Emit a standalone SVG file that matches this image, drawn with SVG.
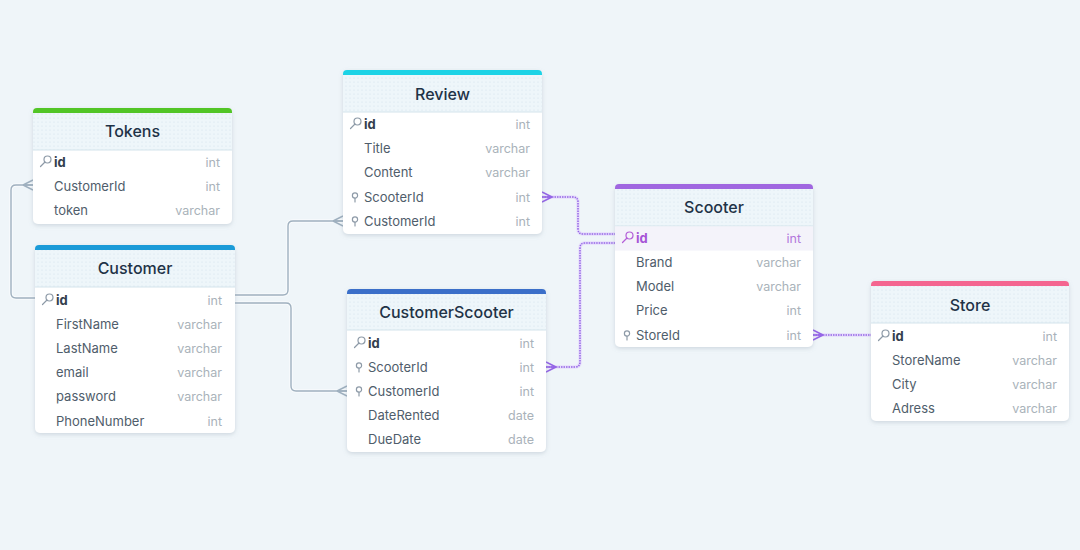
<svg xmlns="http://www.w3.org/2000/svg" width="1080" height="550" viewBox="0 0 1080 550">
<defs>
<filter id="sh" x="-10%" y="-10%" width="120%" height="130%">
<feDropShadow dx="0" dy="1.5" stdDeviation="2" flood-color="#7d8fa0" flood-opacity="0.3"/>
</filter>
<pattern id="dots" width="4" height="4" patternUnits="userSpaceOnUse">
<rect width="4" height="4" fill="#eef6fa"/>
<circle cx="2" cy="2" r="0.6" fill="#d3e3ec"/>
</pattern>
<style>
.card{fill:#ffffff;filter:url(#sh)}
.hdr{fill:url(#dots)}
.sep{stroke:#d4e4ec;stroke-width:1.2}
.title{font-family:Inter,"Noto Sans",sans-serif;font-size:16px;font-weight:500;fill:#1f3347;text-anchor:middle}
.fn{font-family:Inter,"Noto Sans",sans-serif;font-size:13px;fill:#4f5d6b}
.pk{font-family:Inter,"Noto Sans",sans-serif;font-size:13px;font-weight:700;fill:#33404d}
.ty{font-family:Inter,"Noto Sans",sans-serif;font-size:12.5px;fill:#a9b2ba;text-anchor:end}
.ico{fill:none;stroke:#8d9aa7;stroke-width:1.2;stroke-linecap:round}
.lg{fill:none;stroke:#9fb0bf;stroke-width:1.4}
.lgh{fill:none;stroke:#ffffff;stroke-width:3.5;opacity:0.6}
.lp{fill:none;stroke:#9566e6;stroke-width:1.5;stroke-dasharray:1.5 1}
.lph{fill:none;stroke:#e3d8fb;stroke-width:3.5;opacity:0.8}
</style>
</defs>
<rect width="1080" height="550" fill="#eff5f9"/>

<g id="connectors">
<path class="lgh" d="M33 185 H16 Q11 185 11 190 V293 Q11 298 16 298 H35"/>
<path class="lg" d="M33 185 H16 Q11 185 11 190 V293 Q11 298 16 298 H35"/>
<path class="lg" d="M23 185 L33 180 M23 185 L33 185 M23 185 L33 190"/>

<path class="lgh" d="M235 295 H283 Q288 295 288 290 V226 Q288 221 293 221 H343"/>
<path class="lg" d="M235 295 H283 Q288 295 288 290 V226 Q288 221 293 221 H343"/>
<path class="lg" d="M333 221 L343 216 M333 221 L343 221 M333 221 L343 226"/>

<path class="lgh" d="M235 303 H286 Q291 303 291 308 V386 Q291 391 296 391 H347"/>
<path class="lg" d="M235 303 H286 Q291 303 291 308 V386 Q291 391 296 391 H347"/>
<path class="lg" d="M337 391 L347 386 M337 391 L347 391 M337 391 L347 396"/>

<path class="lph" d="M542 197 H573 Q578 197 578 202 V229 Q578 234 583 234 H615"/>
<path class="lp" d="M542 197 H573 Q578 197 578 202 V229 Q578 234 583 234 H615"/>
<path class="lp" style="stroke-dasharray:none" d="M552 197 L542 192 M552 197 L542 197 M552 197 L542 202"/>

<path class="lph" d="M546 367 H575 Q580 367 580 362 V248 Q580 243 585 243 H615"/>
<path class="lp" d="M546 367 H575 Q580 367 580 362 V248 Q580 243 585 243 H615"/>
<path class="lp" style="stroke-dasharray:none" d="M556 367 L546 362 M556 367 L546 367 M556 367 L546 372"/>

<path class="lph" d="M813 335 H871"/>
<path class="lp" d="M813 335 H871"/>
<path class="lp" style="stroke-dasharray:none" d="M823 335 L813 330 M823 335 L813 335 M823 335 L813 340"/>
</g>

<g id="Tokens">
<rect class="card" x="33" y="108" width="199" height="116" rx="5"/>
<path class="hdr" d="M33 113 H232 V150 H33 Z"/>
<path d="M33 113 V112 Q33 108 37 108 H228 Q232 108 232 112 V113 Z" fill="#52c526"/>
<line class="sep" x1="33" y1="150" x2="232" y2="150"/>
<text class="title" x="132.5" y="137">Tokens</text>
<g transform="translate(33,162)"><circle class="ico" cx="14.5" cy="-2.5" r="3.5"/><path class="ico" d="M12 0 L7.5 4.5"/></g>
<text class="pk" x="54" y="166.5">id</text><text class="ty" x="220" y="166.5">int</text>
<text class="fn" x="54" y="191">CustomerId</text><text class="ty" x="220" y="191">int</text>
<text class="fn" x="54" y="215">token</text><text class="ty" x="220" y="215">varchar</text>
</g>

<g id="Customer">
<rect class="card" x="35" y="245" width="200" height="188" rx="5"/>
<path class="hdr" d="M35 250 H235 V287 H35 Z"/>
<path d="M35 250 V249 Q35 245 39 245 H231 Q235 245 235 249 V250 Z" fill="#1b9bd8"/>
<line class="sep" x1="35" y1="287" x2="235" y2="287"/>
<text class="title" x="135" y="274">Customer</text>
<g transform="translate(35,300)"><circle class="ico" cx="14.5" cy="-2.5" r="3.5"/><path class="ico" d="M12 0 L7.5 4.5"/></g>
<text class="pk" x="56" y="304.5">id</text><text class="ty" x="222" y="304.5">int</text>
<text class="fn" x="56" y="328.5">FirstName</text><text class="ty" x="222" y="328.5">varchar</text>
<text class="fn" x="56" y="353">LastName</text><text class="ty" x="222" y="353">varchar</text>
<text class="fn" x="56" y="377">email</text><text class="ty" x="222" y="377">varchar</text>
<text class="fn" x="56" y="401">password</text><text class="ty" x="222" y="401">varchar</text>
<text class="fn" x="56" y="425.5">PhoneNumber</text><text class="ty" x="222" y="425.5">int</text>
</g>

<g id="Review">
<rect class="card" x="343" y="70" width="199" height="164" rx="5"/>
<path class="hdr" d="M343 75 H542 V112 H343 Z"/>
<path d="M343 75 V74 Q343 70 347 70 H538 Q542 70 542 74 V75 Z" fill="#1dd3e6"/>
<line class="sep" x1="343" y1="112" x2="542" y2="112"/>
<text class="title" x="442.5" y="99.5">Review</text>
<g transform="translate(343,124)"><circle class="ico" cx="14.5" cy="-2.5" r="3.5"/><path class="ico" d="M12 0 L7.5 4.5"/></g>
<text class="pk" x="364" y="128.5">id</text><text class="ty" x="530" y="128.5">int</text>
<text class="fn" x="364" y="153">Title</text><text class="ty" x="530" y="153">varchar</text>
<text class="fn" x="364" y="177">Content</text><text class="ty" x="530" y="177">varchar</text>
<g transform="translate(343,197)"><circle class="ico" cx="12" cy="-1.5" r="2.6"/><path class="ico" d="M12 1 V5"/></g>
<text class="fn" x="364" y="201.5">ScooterId</text><text class="ty" x="530" y="201.5">int</text>
<g transform="translate(343,221)"><circle class="ico" cx="12" cy="-1.5" r="2.6"/><path class="ico" d="M12 1 V5"/></g>
<text class="fn" x="364" y="225.5">CustomerId</text><text class="ty" x="530" y="225.5">int</text>
</g>

<g id="CustomerScooter">
<rect class="card" x="347" y="289" width="199" height="163" rx="5"/>
<path class="hdr" d="M347 294 H546 V330 H347 Z"/>
<path d="M347 294 V293 Q347 289 351 289 H542 Q546 289 546 293 V294 Z" fill="#3b6fc9"/>
<line class="sep" x1="347" y1="330" x2="546" y2="330"/>
<text class="title" x="446.5" y="318">CustomerScooter</text>
<g transform="translate(347,343)"><circle class="ico" cx="14.5" cy="-2.5" r="3.5"/><path class="ico" d="M12 0 L7.5 4.5"/></g>
<text class="pk" x="368" y="347.5">id</text><text class="ty" x="534" y="347.5">int</text>
<g transform="translate(347,367)"><circle class="ico" cx="12" cy="-1.5" r="2.6"/><path class="ico" d="M12 1 V5"/></g>
<text class="fn" x="368" y="371.5">ScooterId</text><text class="ty" x="534" y="371.5">int</text>
<g transform="translate(347,391)"><circle class="ico" cx="12" cy="-1.5" r="2.6"/><path class="ico" d="M12 1 V5"/></g>
<text class="fn" x="368" y="395.5">CustomerId</text><text class="ty" x="534" y="395.5">int</text>
<text class="fn" x="368" y="420">DateRented</text><text class="ty" x="534" y="420">date</text>
<text class="fn" x="368" y="444">DueDate</text><text class="ty" x="534" y="444">date</text>
</g>

<g id="Scooter">
<rect class="card" x="615" y="184" width="198" height="163" rx="5"/>
<path class="hdr" d="M615 189 H813 V226 H615 Z"/>
<path d="M615 189 V188 Q615 184 619 184 H809 Q813 184 813 188 V189 Z" fill="#a066e0"/>
<line class="sep" x1="615" y1="226" x2="813" y2="226"/>
<rect x="615" y="226.6" width="198" height="24" fill="#f4f3fa"/>
<text class="title" x="714" y="213">Scooter</text>
<g transform="translate(615,238)"><circle class="ico" style="stroke:#b45fd8" cx="14.5" cy="-2.5" r="3.5"/><path class="ico" style="stroke:#b45fd8" d="M12 0 L7.5 4.5"/></g>
<text class="pk" style="fill:#a655d6" x="636" y="242.5">id</text><text class="ty" style="fill:#b277dc" x="801" y="242.5">int</text>
<text class="fn" x="636" y="267">Brand</text><text class="ty" x="801" y="267">varchar</text>
<text class="fn" x="636" y="291">Model</text><text class="ty" x="801" y="291">varchar</text>
<text class="fn" x="636" y="315">Price</text><text class="ty" x="801" y="315">int</text>
<g transform="translate(615,335)"><circle class="ico" cx="12" cy="-1.5" r="2.6"/><path class="ico" d="M12 1 V5"/></g>
<text class="fn" x="636" y="339.5">StoreId</text><text class="ty" x="801" y="339.5">int</text>
</g>

<g id="Store">
<rect class="card" x="871" y="281" width="198" height="140" rx="5"/>
<path class="hdr" d="M871 286 H1069 V323 H871 Z"/>
<path d="M871 286 V285 Q871 281 875 281 H1065 Q1069 281 1069 285 V286 Z" fill="#f46690"/>
<line class="sep" x1="871" y1="323" x2="1069" y2="323"/>
<text class="title" x="970" y="311">Store</text>
<g transform="translate(871,336)"><circle class="ico" cx="14.5" cy="-2.5" r="3.5"/><path class="ico" d="M12 0 L7.5 4.5"/></g>
<text class="pk" x="892" y="340.5">id</text><text class="ty" x="1057" y="340.5">int</text>
<text class="fn" x="892" y="364.5">StoreName</text><text class="ty" x="1057" y="364.5">varchar</text>
<text class="fn" x="892" y="388.5">City</text><text class="ty" x="1057" y="388.5">varchar</text>
<text class="fn" x="892" y="413">Adress</text><text class="ty" x="1057" y="413">varchar</text>
</g>
</svg>
